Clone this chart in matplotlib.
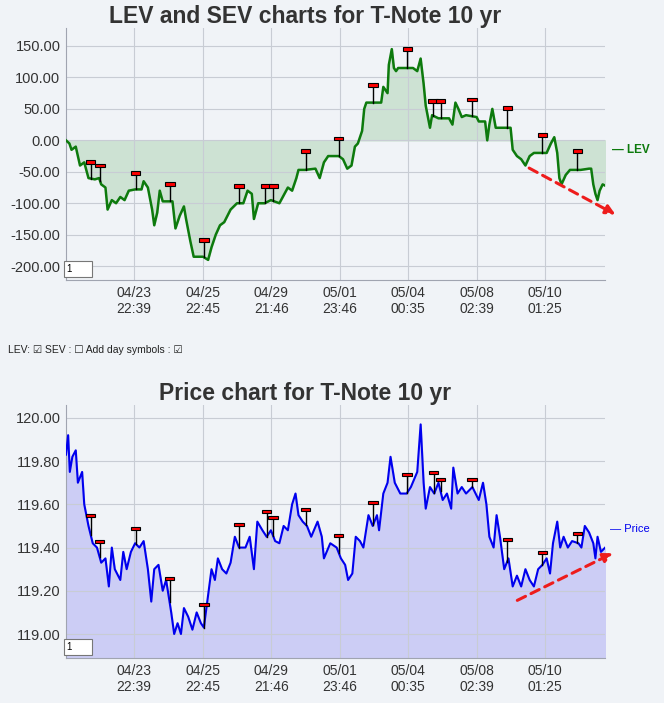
import numpy as np
import matplotlib
matplotlib.use("Agg")
import matplotlib.pyplot as plt
from matplotlib.patches import Rectangle

plt.rcParams['font.family'] = ['Liberation Sans', 'DejaVu Sans']

tick_pos = [317, 480, 641, 803, 964, 1125, 1287]
tick_labels = ["04/23\n22:39", "04/25\n22:45", "04/29\n21:46", "05/01\n23:46", "05/04\n00:35", "05/08\n02:39", "05/10\n01:25"]

lev_x = [157,165,170,180,190,200,210,225,235,240,250,255,265,275,285,295,305,320,335,340,350,360,365,372,378,385,408,415,425,435,440,450,458,480,492,500,510,520,530,545,560,575,585,595,600,610,625,640,660,680,690,700,705,720,745,755,765,775,800,810,820,830,838,845,855,860,865,900,905,915,918,925,930,935,940,975,985,993,1000,1005,1015,1020,1035,1060,1068,1075,1082,1090,1100,1125,1130,1145,1150,1155,1162,1170,1190,1205,1210,1220,1230,1240,1250,1260,1290,1300,1308,1315,1320,1325,1335,1345,1370,1390,1395,1400,1405,1410,1415,1422,1428]
lev_y = [0,-5,-15,-10,-40,-35,-60,-62,-60,-70,-75,-110,-95,-100,-90,-95,-80,-78,-78,-65,-75,-110,-135,-115,-80,-97,-97,-140,-120,-105,-125,-160,-185,-185,-190,-170,-150,-135,-130,-110,-100,-100,-80,-85,-125,-100,-100,-95,-100,-75,-80,-60,-47,-47,-45,-60,-35,-25,-25,-30,-45,-40,-10,-5,15,50,60,60,85,75,120,145,115,110,115,115,110,130,90,55,20,40,35,35,25,60,50,37,40,37,30,30,0,25,50,20,20,20,-15,-25,-30,-40,-25,-20,-20,-5,5,-20,-60,-70,-55,-47,-47,-45,-45,-70,-85,-95,-80,-70,-72]
lev_flag_x = [215,237,321,402,482,565,627,646,722,800,881,962,1022,1040,1114,1197,1280,1362]
lev_flag_y = [-38,-43,-55,-72,-162,-75,-75,-75,-20,0,85,142,60,60,62,48,5,-20]

price_x = [157,162,166,172,180,185,195,200,210,220,230,240,250,258,265,272,285,292,300,310,320,330,340,350,358,365,375,385,393,405,412,420,428,435,445,455,465,475,482,490,500,508,515,525,535,545,555,565,580,590,600,608,620,630,640,650,660,670,680,690,698,705,715,725,735,750,760,765,780,795,805,815,822,832,840,850,858,870,880,890,895,905,915,922,932,945,960,970,985,993,1000,1005,1015,1025,1035,1045,1055,1065,1070,1080,1090,1100,1115,1130,1140,1148,1155,1165,1172,1180,1190,1200,1210,1220,1230,1240,1250,1260,1270,1280,1290,1298,1305,1315,1322,1330,1340,1350,1365,1372,1380,1390,1400,1405,1410,1418,1428]
price_y = [119.83,119.92,119.75,119.82,119.85,119.7,119.75,119.6,119.5,119.42,119.4,119.33,119.35,119.22,119.4,119.3,119.25,119.38,119.3,119.38,119.42,119.4,119.43,119.3,119.15,119.3,119.32,119.2,119.25,119.1,119.0,119.05,119.0,119.12,119.08,119.02,119.1,119.05,119.03,119.15,119.3,119.25,119.35,119.3,119.28,119.33,119.45,119.4,119.4,119.45,119.3,119.52,119.48,119.45,119.48,119.43,119.42,119.5,119.48,119.6,119.65,119.55,119.52,119.5,119.45,119.52,119.45,119.35,119.42,119.4,119.35,119.32,119.25,119.28,119.45,119.43,119.4,119.55,119.5,119.55,119.48,119.65,119.7,119.82,119.7,119.65,119.65,119.68,119.75,119.97,119.7,119.58,119.68,119.65,119.7,119.62,119.65,119.58,119.77,119.65,119.68,119.65,119.68,119.62,119.7,119.6,119.45,119.4,119.55,119.45,119.3,119.35,119.22,119.27,119.22,119.3,119.25,119.22,119.3,119.32,119.35,119.28,119.42,119.52,119.4,119.45,119.4,119.43,119.42,119.4,119.5,119.47,119.42,119.35,119.45,119.38,119.4]
price_flag_x = [215,236,321,401,482,565,630,645,722,800,881,961,1024,1040,1114,1197,1280,1362]
price_flag_y = [119.54,119.42,119.48,119.25,119.13,119.5,119.56,119.53,119.57,119.45,119.6,119.73,119.74,119.71,119.71,119.43,119.37,119.46]

BG = "#f0f3f7"
fig = plt.figure(figsize=(6.64, 7.03), dpi=100, facecolor=BG)

def setup(ax, ylim, yticks, fmt):
    ax.set_facecolor(BG)
    ax.set_xlim(157, 1428)
    ax.set_ylim(*ylim)
    ax.set_xticks(tick_pos)
    ax.set_xticklabels(tick_labels, fontsize=10, color="#333333")
    ax.set_yticks(yticks)
    ax.set_yticklabels([fmt % v for v in yticks], fontsize=10.5, color="#333333")
    ax.grid(True, color="#c8ccd4", lw=0.8)
    ax.tick_params(length=0, pad=4)
    for s in ["top", "right"]:
        ax.spines[s].set_visible(False)
    ax.spines["left"].set_color("#a0a4b0")
    ax.spines["bottom"].set_color("#a0a4b0")
    ax.text(0.002, 0.025, "1      ", transform=ax.transAxes, fontsize=7, va="bottom",
            bbox=dict(boxstyle="square,pad=0.3", fc="white", ec="#777777", lw=0.8))

def flags(ax, fx, fy, lx, ly, h):
    for x, y in zip(fx, fy):
        base = np.interp(x, lx, ly)
        ax.plot([x, x], [base, y], color="black", lw=1, zorder=4)
        ax.add_patch(Rectangle((x - 11, y), 22, h, fc="red", ec="black", lw=0.8, zorder=5))

ax1 = fig.add_axes([0.0994, 0.6017, 0.812, 0.3585])
setup(ax1, (-222, 178.6), [-200, -150, -100, -50, 0, 50, 100, 150], "%.2f")
ax1.fill_between(lev_x, lev_y, 0, color="#cde2d3", zorder=1)
ax1.plot(lev_x, lev_y, color="#0d7a0d", lw=1.8, zorder=3)
flags(ax1, lev_flag_x, lev_flag_y, lev_x, lev_y, 6)
ax1.annotate("", xy=(1458, -120), xytext=(1243, -42), annotation_clip=False,
             arrowprops=dict(arrowstyle="-|>", color="#ee1c1c", lw=2.2, ls=(0, (3, 2)), mutation_scale=14))
fig.text(0.46, 0.977, "LEV and SEV charts for T-Note 10 yr", fontsize=16.5, fontweight="bold", color="#333333", ha="center", va="center")
fig.text(0.922, 0.787, "— LEV", color="#0d7a0d", fontsize=8.5, fontweight="bold", va="center")

ax2 = fig.add_axes([0.0994, 0.064, 0.812, 0.36])
setup(ax2, (118.889, 120.06), [119.0, 119.2, 119.4, 119.6, 119.8, 120.0], "%.2f")
ax2.fill_between(price_x, price_y, 118.889, color="#cccdf5", zorder=1)
ax2.plot(price_x, price_y, color="#0000ee", lw=1.5, zorder=3)
flags(ax2, price_flag_x, price_flag_y, price_x, price_y, 0.014)
ax2.annotate("", xy=(1452, 119.38), xytext=(1215, 119.15), annotation_clip=False,
             arrowprops=dict(arrowstyle="-|>", color="#ee1c1c", lw=2.2, ls=(0, (3, 2)), mutation_scale=14))
fig.text(0.46, 0.44, "Price chart for T-Note 10 yr", fontsize=16.5, fontweight="bold", color="#333333", ha="center", va="center")
fig.text(0.918, 0.247, "— Price", color="#0000ee", fontsize=8, va="center")

fig.text(0.012, 0.502, "LEV: \u2611 SEV : \u2610 Add day symbols : \u2611", fontsize=7.5, color="#222222", va="center")

fig.savefig("out.png", dpi=100, facecolor=BG)
